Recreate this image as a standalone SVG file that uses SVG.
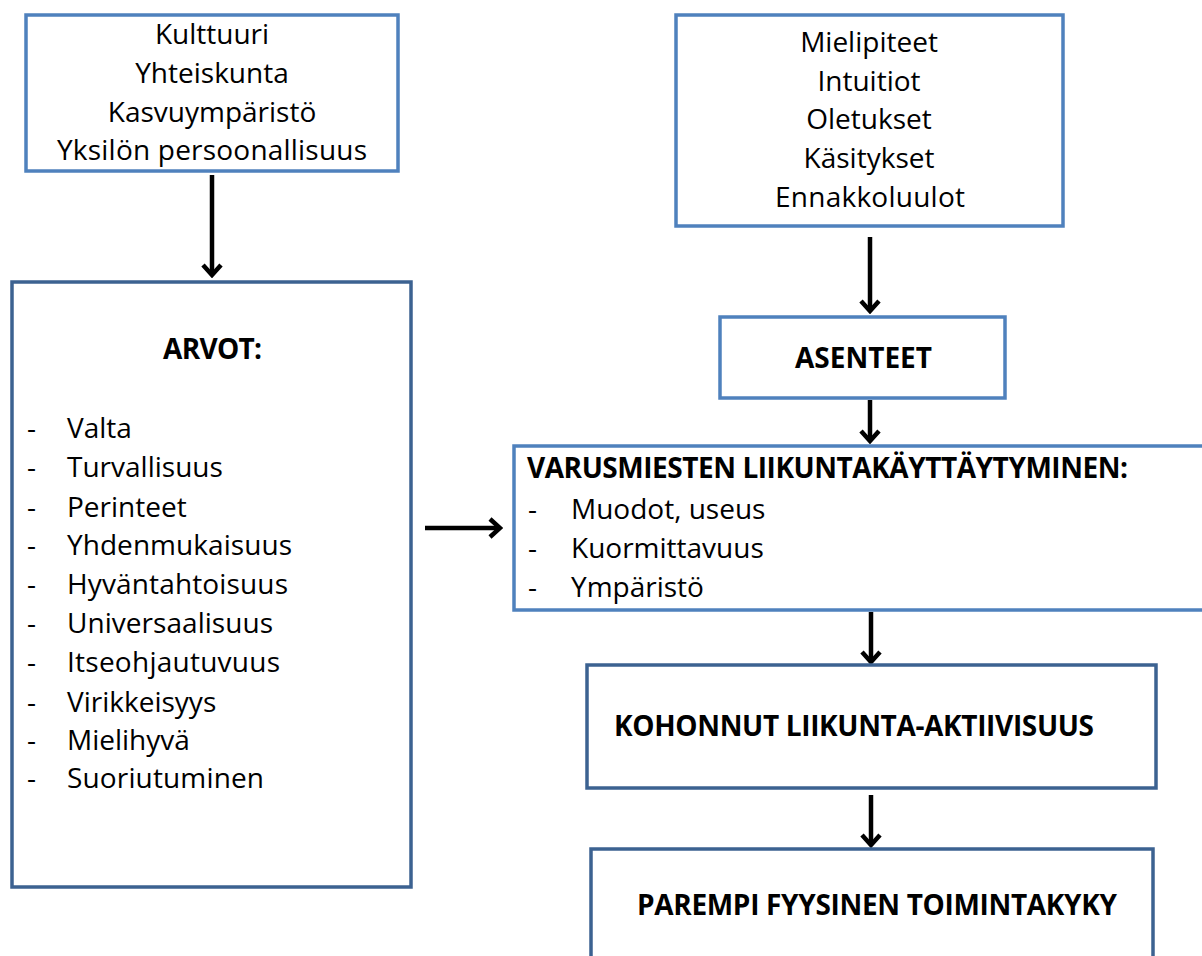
<svg xmlns="http://www.w3.org/2000/svg" width="1202" height="956" viewBox="0 0 1202 956">
<style>
.bl{fill:#fff;stroke:#4F81BD;stroke-width:3.5}
.bd{fill:#fff;stroke:#3C6291;stroke-width:3.5}
.t{font-family:"Open Sans","Noto Sans",sans-serif;font-size:28px;fill:#000}
.c{text-anchor:middle}
.b{font-weight:bold}
.cn{stroke:#000;stroke-width:4.5;fill:none}
</style>
<defs>
<marker id="ah" markerUnits="userSpaceOnUse" viewBox="0 0 16 24" markerWidth="16" markerHeight="24" refX="13" refY="12" orient="auto">
<path d="M3,3 L13,12 L3,21" stroke="#000" stroke-width="4.5" fill="none"/>
</marker>
</defs>
<g id="connectors">
<line class="cn" x1="212" y1="175" x2="212" y2="275" marker-end="url(#ah)"/>
<line class="cn" x1="870" y1="237" x2="870" y2="311" marker-end="url(#ah)"/>
<line class="cn" x1="870" y1="400" x2="870" y2="441" marker-end="url(#ah)"/>
<line class="cn" x1="871" y1="612" x2="871" y2="662" marker-end="url(#ah)"/>
<line class="cn" x1="871" y1="795" x2="871" y2="845" marker-end="url(#ah)"/>
<line class="cn" x1="425" y1="528" x2="500" y2="528" marker-end="url(#ah)"/>
</g>
<g id="sources">
<rect class="bl" x="26" y="15" width="372" height="156"/>
<text class="t c" x="212" y="44">Kulttuuri</text>
<text class="t c" x="212" y="83">Yhteiskunta</text>
<text class="t c" x="212" y="122">Kasvuympäristö</text>
<text class="t c" x="212" y="160" textLength="310">Yksilön persoonallisuus</text>
</g>
<g id="arvot">
<rect class="bd" x="12" y="282" width="399" height="605"/>
<text class="t b" x="163" y="359" textLength="99">ARVOT:</text>
<g class="t">
<text x="27" y="438">-</text><text x="67" y="438">Valta</text>
<text x="27" y="477">-</text><text x="67" y="477">Turvallisuus</text>
<text x="27" y="517">-</text><text x="67" y="517">Perinteet</text>
<text x="27" y="555">-</text><text x="67" y="555" textLength="225">Yhdenmukaisuus</text>
<text x="27" y="594">-</text><text x="67" y="594" textLength="221">Hyväntahtoisuus</text>
<text x="27" y="633">-</text><text x="67" y="633" textLength="206">Universaalisuus</text>
<text x="27" y="672">-</text><text x="67" y="672" textLength="213">Itseohjautuvuus</text>
<text x="27" y="712">-</text><text x="67" y="712">Virikkeisyys</text>
<text x="27" y="750">-</text><text x="67" y="750">Mielihyvä</text>
<text x="27" y="788">-</text><text x="67" y="788" textLength="197">Suoriutuminen</text>
</g>
</g>
<g id="mielipiteet">
<rect class="bl" x="676" y="15" width="387" height="211"/>
<text class="t c" x="869" y="52">Mielipiteet</text>
<text class="t c" x="869" y="91">Intuitiot</text>
<text class="t c" x="869" y="129">Oletukset</text>
<text class="t c" x="869" y="168">Käsitykset</text>
<text class="t c" x="870" y="207" textLength="190">Ennakkoluulot</text>
</g>
<g id="asenteet">
<rect class="bl" x="720" y="317" width="285" height="81"/>
<text class="t b" x="795" y="368" textLength="137">ASENTEET</text>
</g>
<g id="liikuntakayttaytyminen">
<rect class="bl" x="514" y="446" width="700" height="164"/>
<text class="t b" x="527" y="478" textLength="601">VARUSMIESTEN LIIKUNTAKÄYTTÄYTYMINEN:</text>
<text class="t" x="528" y="519">-</text><text class="t" x="571" y="519">Muodot, useus</text>
<text class="t" x="528" y="558">-</text><text class="t" x="571" y="558">Kuormittavuus</text>
<text class="t" x="528" y="597">-</text><text class="t" x="571" y="597">Ympäristö</text>
</g>
<g id="kohonnut">
<rect class="bd" x="587" y="665" width="569" height="123"/>
<text class="t b" x="614" y="736" textLength="480">KOHONNUT LIIKUNTA-AKTIIVISUUS</text>
</g>
<g id="parempi">
<rect class="bd" x="591" y="849" width="562" height="130"/>
<text class="t b" x="637" y="915" textLength="480">PAREMPI FYYSINEN TOIMINTAKYKY</text>
</g>
</svg>
